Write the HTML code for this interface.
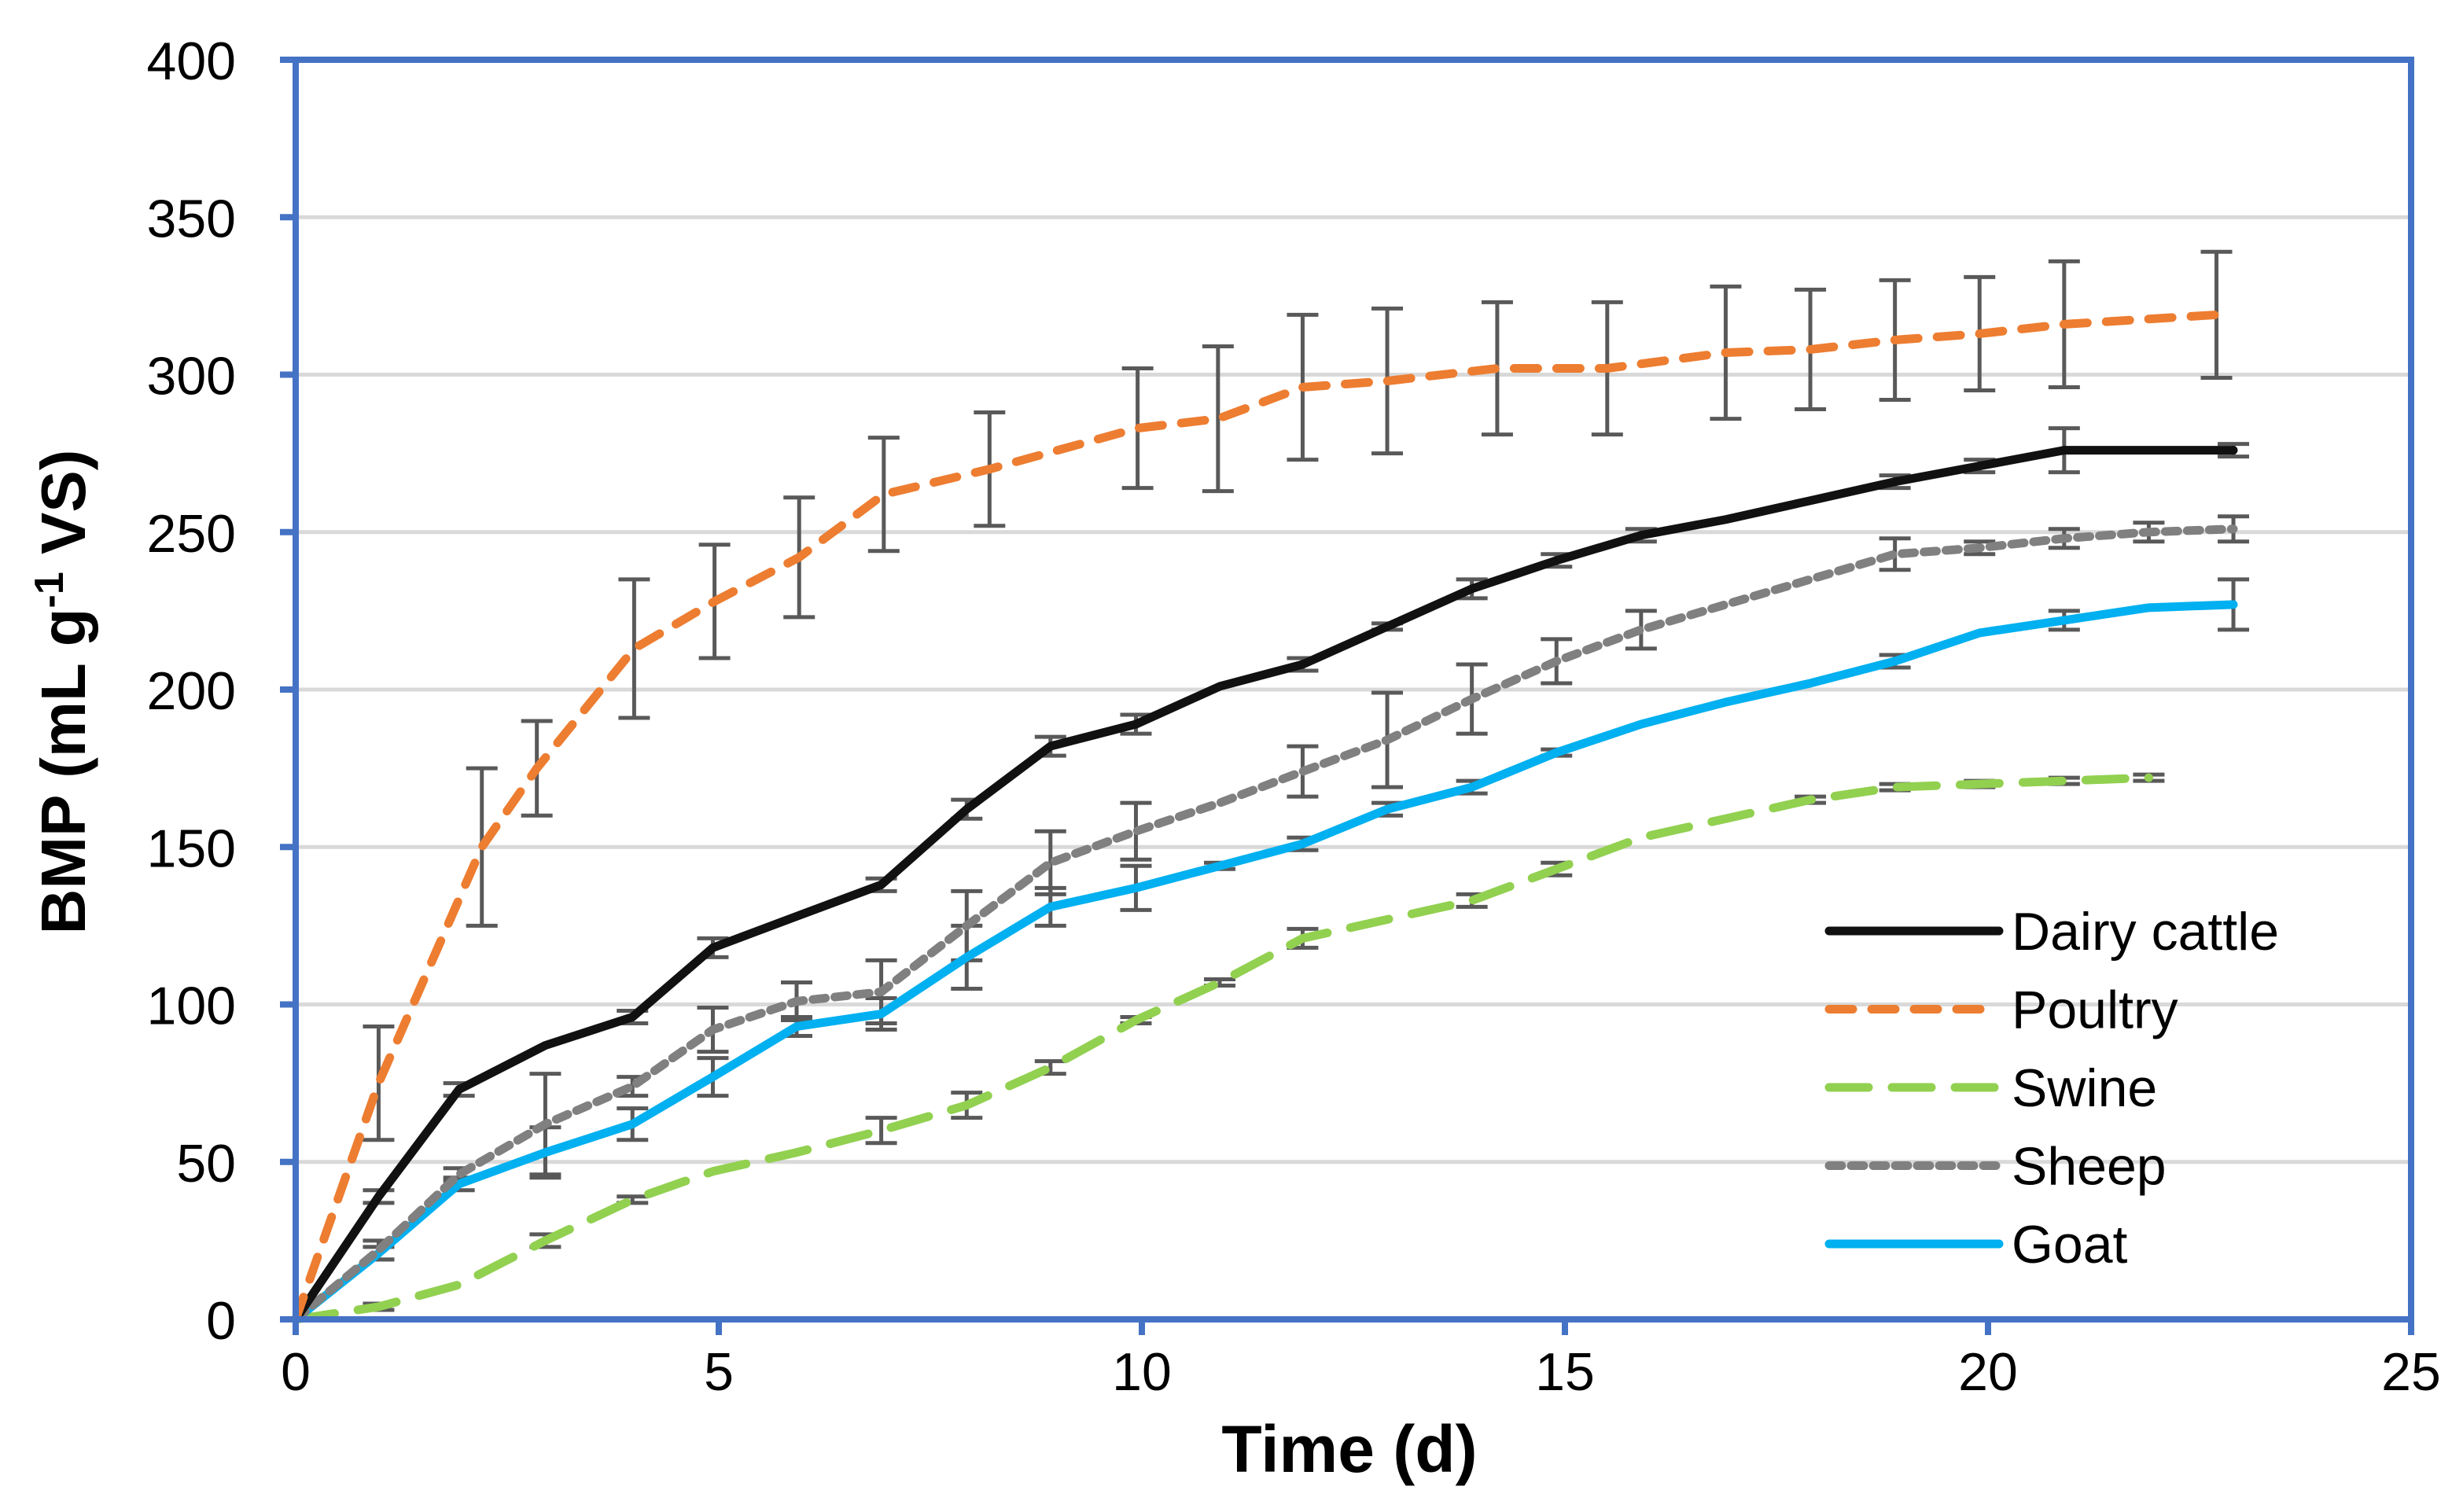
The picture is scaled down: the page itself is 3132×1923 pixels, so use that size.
<!DOCTYPE html>
<html><head><meta charset="utf-8"><style>
html,body{margin:0;padding:0;background:#fff;}
svg{display:block;font-family:"Liberation Sans",Arial,sans-serif;}
</style></head><body>
<svg id="chart" width="3132" height="1923" viewBox="0 0 3132 1923">
<g id="grid"></g>
<g id="series"></g>
<g id="axes"></g>
<text x="1716" y="1872" text-anchor="middle" font-size="84" font-weight="bold">Time (d)</text>
<text transform="translate(108,880) rotate(-90)" text-anchor="middle" font-size="80" font-weight="bold">BMP (mL g<tspan dy="-28" font-size="52">-1</tspan><tspan dy="28"> VS)</tspan></text>
<g id="legend"></g>
</svg>
<script>
const yTicks=[0,50,100,150,200,250,300,350,400];
const xTicks=[0,5,10,15,20,25];
const days=[0,0.98,1.93,2.95,3.98,4.93,5.92,6.92,7.93,8.92,9.93,10.92,11.9,12.9,13.9,14.9,15.9,16.9,17.9,18.9,19.9,20.9,21.9,22.9];
const dairy=[0,39,73,87,96,118,128,138,162,182,189,201,208,220,232,241,249,254,260,266,271,276,276,276];
const dairyErr=[0,2,2,0,2,3,0,2,3,3,3,0,2,1,3,2,2,0,0,2,2,7,0,2];
const poultryDays=[0,0.98,2.2,2.85,4,4.95,5.95,6.95,8.2,9.95,10.9,11.9,12.9,14.2,15.5,16.9,17.9,18.9,19.9,20.9,22.7];
const poultry=[0,75,150,175,213,228,242,262,270,283,286,296,298,302,302,307,308,311,313,316,319];
const poultryErr=[0,18,25,15,22,18,19,18,18,19,23,23,23,21,21,21,19,19,18,20,20];
const swineDays=days.slice(0,23);
const swine=[0,4,11,25,38,47,53,60,68,80,95,107,121,127,133,143,153,159,165,169,170,171,172];
const swineErr=[0,1,0,2,1,0,0,4,4,2,1,1,3,0,2,2,0,0,1,1,1,1,1];
const sheep=[0,22,46,62,74,92,101,104,125,145,155,164,174,184,197,209,219,227,235,243,245,248,250,251];
const sheepErr=[0,3,2,16,3,7,6,10,11,10,9,0,8,15,11,7,6,0,0,5,2,3,3,4];
const goat=[0,21,43,53,62,77,93,97,115,131,137,144,151,162,169,180,189,196,202,209,218,222,226,227];
const goatErr=[0,2,2,8,5,6,3,5,10,6,7,1,2,2,2,1,0,0,0,2,0,3,0,8];

const NS="http://www.w3.org/2000/svg";
const X=d=>376+d*107.6, Y=v=>1678-v*4.005;
function mk(tag,attrs,parent){const e=document.createElementNS(NS,tag);for(const k in attrs)e.setAttribute(k,attrs[k]);parent.appendChild(e);return e;}
const grid=document.getElementById('grid'),axes=document.getElementById('axes'),ser=document.getElementById('series'),leg=document.getElementById('legend');
yTicks.forEach(v=>{
  if(v>0&&v<400){const l=mk('line',{x1:376,x2:3066,y1:Y(v),y2:Y(v),stroke:'#D9D9D9','stroke-width':5},grid);
  
  }
  const t=mk('line',{x1:356,x2:376,y1:Y(v),y2:Y(v),stroke:'#4472C4','stroke-width':8},axes);
  
  
  const tx=mk('text',{x:300,y:Y(v)+25,'text-anchor':'end','font-size':68},axes);tx.textContent=v;
  
  
});
xTicks.forEach(d=>{
  const t=mk('line',{x1:X(d),x2:X(d),y1:1678,y2:1698,stroke:'#4472C4','stroke-width':8},axes);
  
  
  const tx=mk('text',{x:X(d),y:1768,'text-anchor':'middle','font-size':68},axes);tx.textContent=d;
  
  
});
const frame=mk('rect',{x:376,y:Y(400),width:2690,height:Y(0)-Y(400),fill:'none',stroke:'#4472C4','stroke-width':8},axes);



function errs(xs,vals,er,name){
  xs.forEach((d,i)=>{ if(!er[i])return;
    const g=mk('g',{stroke:'#595959','stroke-width':5},ser);
    
    
    mk('line',{x1:X(d),x2:X(d),y1:Y(vals[i]-er[i]),y2:Y(vals[i]+er[i])},g);
    mk('line',{x1:X(d)-20,x2:X(d)+20,y1:Y(vals[i]-er[i]),y2:Y(vals[i]-er[i])},g);
    mk('line',{x1:X(d)-20,x2:X(d)+20,y1:Y(vals[i]+er[i]),y2:Y(vals[i]+er[i])},g);
  });
}
function line(xs,vals,color,dash,name){
  const p=mk('polyline',{points:xs.map((d,i)=>X(d)+','+Y(vals[i])).join(' '),fill:'none',stroke:color,'stroke-width':11,'stroke-linejoin':'round','stroke-linecap':'round','stroke-dasharray':dash},ser);
  
  
}
errs(swineDays,swine,swineErr,'swine');errs(days,goat,goatErr,'goat');errs(days,sheep,sheepErr,'sheep');errs(days,dairy,dairyErr,'dairy-cattle');errs(poultryDays,poultry,poultryErr,'poultry');
const series=[['Dairy cattle','#111111','none'],['Poultry','#ED7D31','30 24'],['Swine','#92D050','50 30'],['Sheep','#808080','16 12'],['Goat','#00B0F0','none']];
line(swineDays,swine,'#92D050','50 30','swine');
line(days,goat,'#00B0F0','none','goat');
line(days,sheep,'#808080','16 12','sheep');
line(days,dairy,'#111111','none','dairy-cattle');
line(poultryDays,poultry,'#ED7D31','30 24','poultry');
series.forEach((s,i)=>{
  const y=1184+i*99.5;
  const g=mk('g',{},leg);
  
  
  mk('line',{x1:2326,x2:2542,y1:y,y2:y,stroke:s[1],'stroke-width':11,'stroke-dasharray':s[2],'stroke-linecap':'round'},g);
  const t=mk('text',{x:2558,y:y+24,'font-size':68},g);t.textContent=s[0];
});
</script>
</body></html>
